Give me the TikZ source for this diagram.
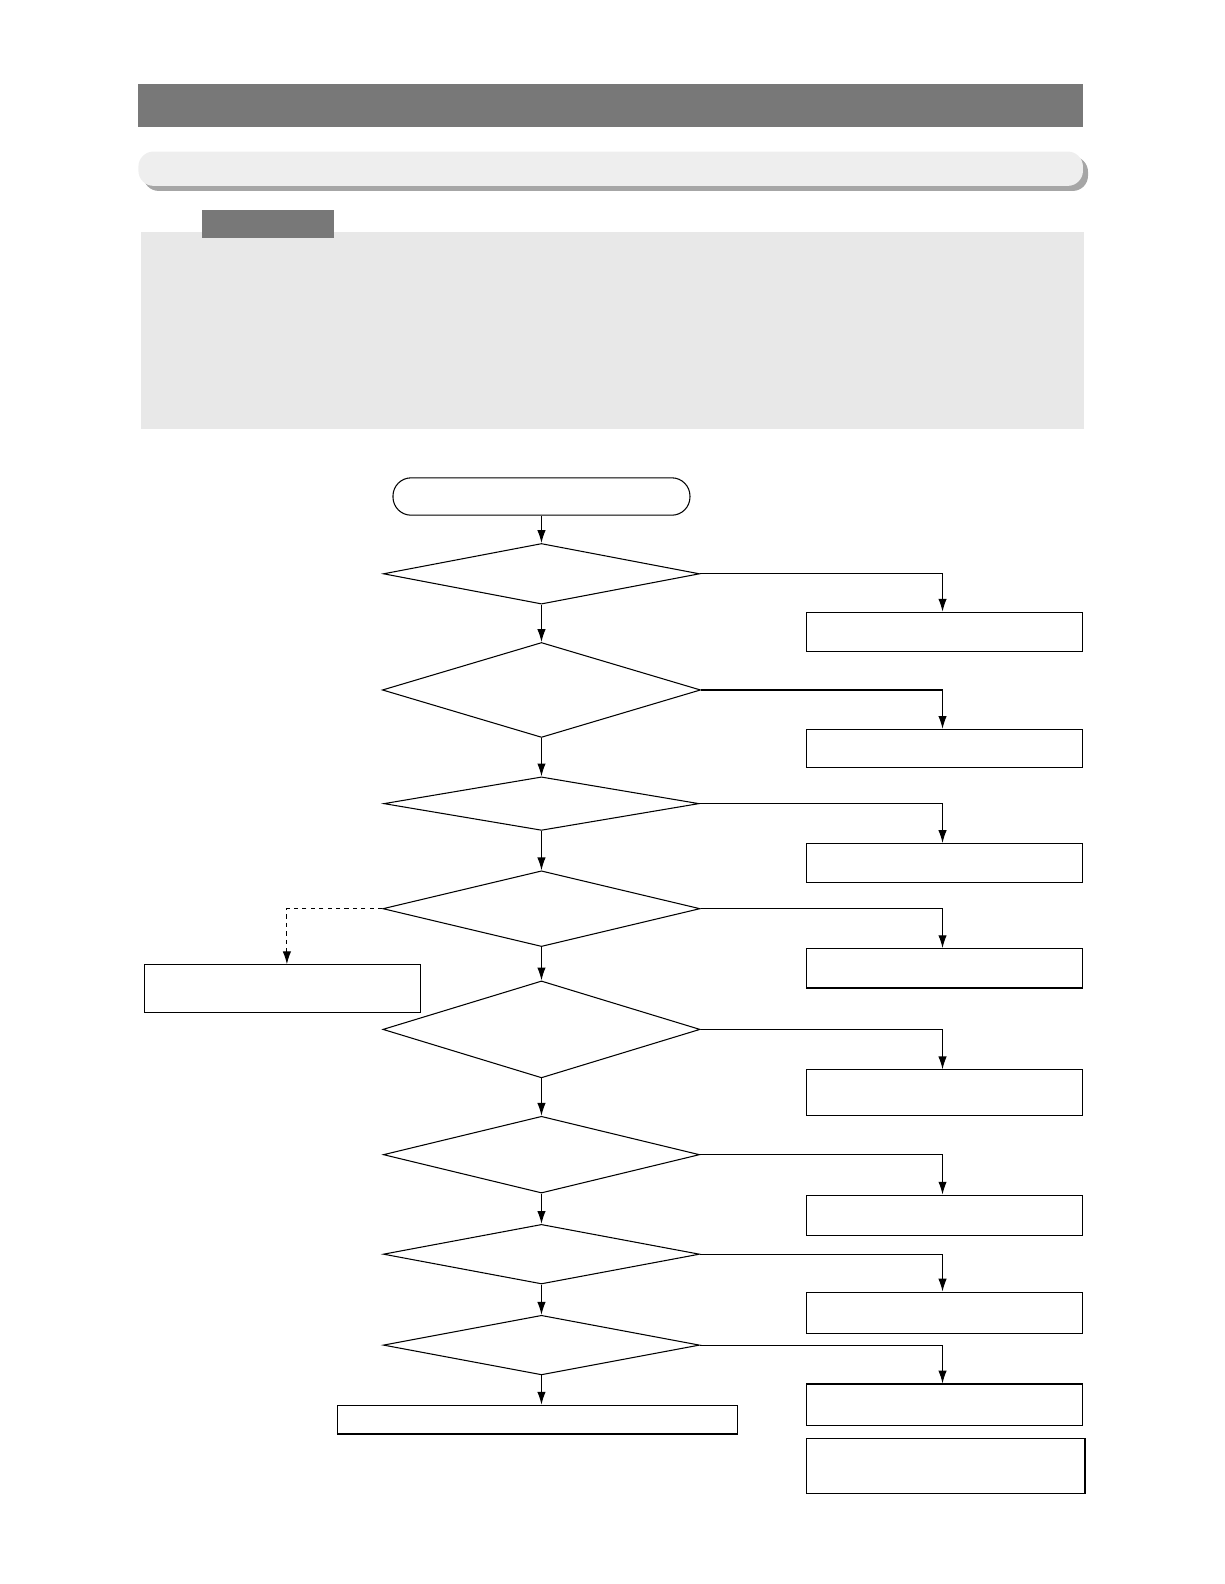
\documentclass[tikz,border=0pt]{standalone}
\usetikzlibrary{shapes.geometric,arrows.meta}
\def\pu{0.02525cm}
\tikzset{
  base/.style={draw, line width=0.75pt, inner sep=0pt, fill=white},
  dia/.style={base, diamond},
  box/.style={base, rectangle},
  arr/.style={line width=0.75pt, -{Latex[length=3.2mm,width=2.1mm]}},
}
\begin{document}
\begin{tikzpicture}[x=0.02525cm, y=-0.02525cm]
\useasboundingbox (0,0) rectangle (1212,1568);
% header graphics
\fill[black!53] (137,83) rectangle (1072,126);
\fill[black!35, rounded corners=15*\pu] (142,155) rectangle (1077,189);
\fill[black!6.5, rounded corners=15*\pu] (137,150) rectangle (1072,184);
\fill[black!9] (140,230) rectangle (1073,425);
\fill[black!53] (200,208) rectangle (331,236);
% nodes
\node[box, rounded corners=18*\pu, minimum width=294*\pu, minimum height=37*\pu] (start) at (536,491.5) {};
\node[dia, minimum width=313*\pu, minimum height=60*\pu] (d1) at (536,568) {};
\node[dia, minimum width=315*\pu, minimum height=94*\pu] (d2) at (536,683) {};
\node[dia, minimum width=312*\pu, minimum height=53*\pu] (d3) at (536,795.5) {};
\node[dia, minimum width=314*\pu, minimum height=75*\pu] (d4) at (536,899.5) {};
\node[dia, minimum width=314*\pu, minimum height=96*\pu] (d5) at (536,1019) {};
\node[dia, minimum width=313*\pu, minimum height=76*\pu] (d6) at (536,1143) {};
\node[dia, minimum width=313*\pu, minimum height=59*\pu] (d7) at (536,1241.5) {};
\node[dia, minimum width=313*\pu, minimum height=59*\pu] (d8) at (536,1331.5) {};
\node[box, minimum width=274*\pu, minimum height=39*\pu] (b1) at (935,625.5) {};
\node[box, minimum width=274*\pu, minimum height=38*\pu] (b2) at (935,741) {};
\node[box, minimum width=274*\pu, minimum height=39*\pu] (b3) at (935,854.5) {};
\node[box, minimum width=274*\pu, minimum height=39*\pu] (b4) at (935,958.5) {};
\node[box, minimum width=274*\pu, minimum height=45*\pu] (b5) at (935,1081.5) {};
\node[box, minimum width=274*\pu, minimum height=40*\pu] (b6) at (935,1203) {};
\node[box, minimum width=274*\pu, minimum height=41*\pu] (b7) at (935,1299.5) {};
\node[box, minimum width=274*\pu, minimum height=41*\pu] (b8) at (935,1390.5) {};
\node[box, minimum width=276*\pu, minimum height=54*\pu] (b9) at (936,1451) {};
\node[box, minimum width=273*\pu, minimum height=47*\pu] (bl) at (279.5,978.5) {};
\node[box, minimum width=396*\pu, minimum height=28*\pu] (bb) at (532,1405) {};
\draw[line width=1.6pt] (bb.south west) -- (bb.south east);
% vertical flow
\draw[arr] (start.south) -- (d1.north);
\draw[arr] (d1.south) -- (d2.north);
\draw[arr] (d2.south) -- (d3.north);
\draw[arr] (d3.south) -- (d4.north);
\draw[arr] (d4.south) -- (d5.north);
\draw[arr] (d5.south) -- (d6.north);
\draw[arr] (d6.south) -- (d7.north);
\draw[arr] (d7.south) -- (d8.north);
\draw[arr] (d8.south) -- (d8.south |- bb.north);
% right branches
\draw[arr] (d1.east) -| ([xshift=-2*\pu]b1.north);
\draw[arr] (d2.east) -| ([xshift=-2*\pu]b2.north);
\draw[arr] (d3.east) -| ([xshift=-2*\pu]b3.north);
\draw[arr] (d4.east) -| ([xshift=-2*\pu]b4.north);
\draw[arr] (d5.east) -| ([xshift=-2*\pu]b5.north);
\draw[arr] (d6.east) -| ([xshift=-2*\pu]b6.north);
\draw[arr] (d7.east) -| ([xshift=-2*\pu]b7.north);
\draw[arr] (d8.east) -| ([xshift=-2*\pu]b8.north);
% left dashed branch
\draw[arr, dashed] (d4.west) -| ([xshift=4.5*\pu]bl.north);
\end{tikzpicture}
\end{document}
